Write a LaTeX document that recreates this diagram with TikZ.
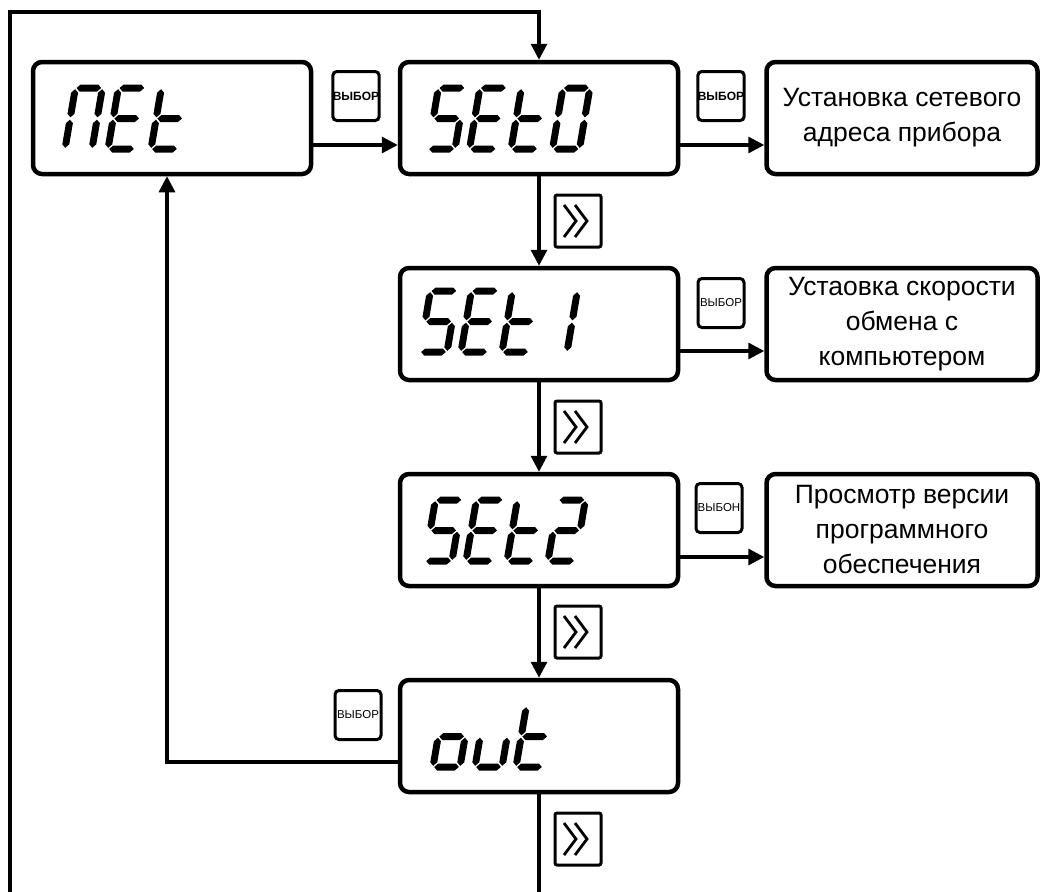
\documentclass[tikz,border=0pt]{standalone}
\usepackage{fontspec}
\setmainfont{Liberation Sans}
\usetikzlibrary{arrows.meta}

% segments of the indicator (local units, y downward)
\newcommand{\hseg}[3]{\fill ({#1+1.2},#3) -- ({#1+4.7},{#3-3.5}) -- ({#2-4.7},{#3-3.5}) -- ({#2-1.2},#3) -- ({#2-4.7},{#3+3.5}) -- ({#1+4.7},{#3+3.5}) -- cycle;}
\newcommand{\vseg}[3]{\fill (#1,{#2+1.2}) -- ({#1+3.5},{#2+4.7}) -- ({#1+3.5},{#3-4.7}) -- (#1,{#3-1.2}) -- ({#1-3.5},{#3-4.7}) -- ({#1-3.5},{#2+4.7}) -- cycle;}
\newcommand{\sgA}{\hseg{0}{27}{-61}}
\newcommand{\sgB}{\vseg{27}{-61}{-30.5}}
\newcommand{\sgC}{\vseg{27}{-30.5}{0}}
\newcommand{\sgD}{\hseg{0}{27}{0}}
\newcommand{\sgE}{\vseg{0}{-30.5}{0}}
\newcommand{\sgF}{\vseg{0}{-61}{-30.5}}
\newcommand{\sgG}{\hseg{0}{27}{-30.5}}
\newcommand{\lcdchar}[3]{%
  \begin{scope}[shift={(#1,#2)},xslant=0.17]
    \foreach \s in {#3}{\csname sg\s\endcsname}
  \end{scope}}

\tikzset{
  lcd/.style={draw, line width=4.5pt, rounded corners=9pt, minimum width=278pt, minimum height=112pt, inner sep=0pt},
  note/.style={lcd, minimum width=271pt, align=center, font=\fontsize{26.5}{35}\selectfont},
  selbtn/.style={draw, line width=3pt, rounded corners=4pt, minimum width=46pt, minimum height=49pt, inner sep=0pt, font=\fontsize{12}{13}\selectfont\bfseries},
  selthin/.style={selbtn, font=\fontsize{11.5}{13}\selectfont},
  ffbtn/.style={draw, line width=3pt, rounded corners=2pt, minimum width=46pt, minimum height=52pt, inner sep=0pt},
  flow/.style={line width=3.2pt, -{Triangle[length=16pt,width=16pt]}},
  link/.style={line width=3.2pt}
}

\newcommand{\ffbutton}[3]{%
  \node[ffbtn] (#1) at (#2,#3) {};
  \draw[line width=2.8pt] ([shift={(-14,-16)}]#1.center) -- ([shift={(-2,0)}]#1.center) -- ([shift={(-14,16)}]#1.center);
  \draw[line width=2.8pt] ([shift={(-3,-16)}]#1.center) -- ([shift={(9,0)}]#1.center) -- ([shift={(-3,16)}]#1.center);}

\begin{document}
\begin{tikzpicture}[x=1pt,y=-1pt]
  \useasboundingbox (0,0) rectangle (1045,892);

  % displays
  \node[lcd] (net) at (172,118) {};
  \node[lcd] (set0) at (539,118) {};
  \node[lcd] (set1) at (539,324) {};
  \node[lcd] (set2) at (539,530) {};
  \node[lcd] (out) at (539,736) {};

  % descriptions
  \node[note] (adr) at (902,118) {Установка сетевого\\адреса прибора};
  \node[note] (spd) at (902,324) {Устаовка скорости\\обмена с\\компьютером};
  \node[note] (ver) at (902,530) {Просмотр версии\\программного\\обеспечения};

  % keys
  \node[selbtn] (k1) at (356,96) {ВЫБОР};
  \node[selbtn] (k2) at (721,96) {ВЫБОР};
  \node[selthin] (k3) at (721,303) {ВЫБОР};
  \node[selthin] (k4) at (719,508) {ВЫБОН};
  \node[selthin] (k5) at (358,715) {ВЫБОР};
  \ffbutton{f1}{578}{221}
  \ffbutton{f2}{578}{427}
  \ffbutton{f3}{578}{632}
  \ffbutton{f4}{578}{839}

  % indicator texts
  \lcdchar{65}{149}{A,B,C,E,F}
  \lcdchar{108}{149}{A,F,G,E,D}
  \lcdchar{151}{149}{F,E,G,D}

  \lcdchar{428}{149}{A,F,G,C,D}
  \lcdchar{469.5}{149}{A,F,G,E,D}
  \lcdchar{511}{149}{F,E,G,D}
  \lcdchar{552.5}{149}{A,B,C,D,E,F}

  \lcdchar{420}{352}{A,F,G,C,D}
  \lcdchar{461}{352}{A,F,G,E,D}
  \lcdchar{502}{352}{F,E,G,D}
  \lcdchar{540}{352}{B,C}

  \lcdchar{425}{561}{A,F,G,C,D}
  \lcdchar{466}{561}{A,F,G,E,D}
  \lcdchar{507}{561}{F,E,G,D}
  \lcdchar{548}{561}{A,B,G,E,D}

  \lcdchar{433}{767}{G,C,D,E}
  \lcdchar{475}{767}{C,D,E}
  \lcdchar{516}{767}{F,E,G,D}

  % connections
  \draw[flow] ([yshift=-27pt]net.east) -- ([yshift=-27pt]set0.west);
  \draw[flow] ([yshift=-27pt]set0.east) -- ([yshift=-27pt]adr.west);
  \draw[flow] ([yshift=-27pt]set1.east) -- ([yshift=-27pt]spd.west);
  \draw[flow] ([yshift=-27pt]set2.east) -- ([yshift=-27pt]ver.west);
  \draw[flow] (set0) -- (set1);
  \draw[flow] (set1) -- (set2);
  \draw[flow] (set2) -- (out);
  \draw[flow] ([yshift=-26pt]out.west) -| ([xshift=-5pt]net.south);

  \coordinate (loopstart) at (10,892);
  \coordinate (loopcorner) at (10,12);
  \draw[flow] (loopstart) -- (loopcorner) -| (set0.north);
  \draw[link] (out.south) -- (out.south |- loopstart);
\end{tikzpicture}
\end{document}
